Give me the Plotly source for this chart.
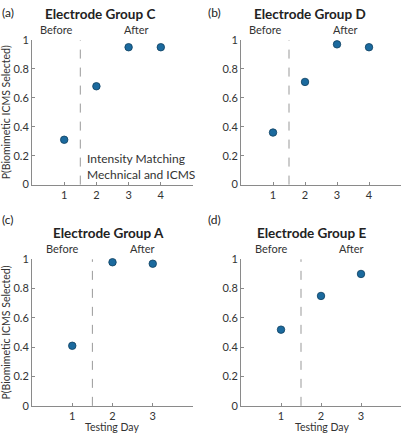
import plotly.graph_objects as go

W, H = 402, 440

# ---- data ----
groups = ["Electrode Group C", "Electrode Group D", "Electrode Group A", "Electrode Group E"]
panel_labels = ["(a)", "(b)", "(c)", "(d)"]
days_C = [1, 2, 3, 4]
vals_C = [0.31, 0.68, 0.95, 0.95]
days_D = [1, 2, 3, 4]
vals_D = [0.36, 0.71, 0.97, 0.95]
days_A = [1, 2, 3]
vals_A = [0.41, 0.98, 0.97]
days_E = [1, 2, 3]
vals_E = [0.52, 0.75, 0.90]
y_ticks = [0, 0.2, 0.4, 0.6, 0.8, 1]
y_tick_labels = ["0", "0.2", "0.4", "0.6", "0.8", "1"]
ylabel = "P(Biomimetic ICMS Selected)"
xlabel = "Testing Day"
note_text = "Intensity Matching<br>Mechnical and ICMS"

series = [(days_C, vals_C), (days_D, vals_D), (days_A, vals_A), (days_E, vals_E)]

# pixel layout of each panel: (left, right, top, bottom)
boxes = [(32, 193, 34, 183), (241, 401, 34, 183), (32, 193, 260, 411), (241, 401, 260, 411)]
xranges = [[0, 5], [0, 5], [0, 4], [0, 4]]

def px(x):
    return x / W

def py(y):
    return 1 - y / H

FONT = "Lato, 'Open Sans', sans-serif"
TXT = "#333333"
AX = "#8a8a8a"
MARK = "#1b6a9e"

fig = go.Figure()
annotations = []
shapes = []

for i, ((days, vals), (l, r, t, b), xr) in enumerate(zip(series, boxes, xranges)):
    n = "" if i == 0 else str(i + 1)
    xa = "xaxis" + n
    ya = "yaxis" + n
    fig.add_trace(go.Scatter(
        x=days, y=vals, mode="markers", xaxis="x" + n, yaxis="y" + n,
        marker=dict(size=7.5, color=MARK, line=dict(color="#0e3f60", width=0.8)),
        cliponaxis=False, showlegend=False, hoverinfo="x+y"))
    ndays = len(days)
    fig.update_layout(**{
        xa: dict(domain=[px(l), px(r)], range=xr, anchor="y" + n,
                 tickvals=list(range(1, ndays + 1)), ticktext=[str(d) for d in range(1, ndays + 1)],
                 showgrid=False, zeroline=False, showline=True, linecolor=AX, linewidth=1,
                 ticks="inside", ticklen=3, tickcolor=AX,
                 tickfont=dict(size=11, color=TXT, family=FONT)),
        ya: dict(domain=[py(b), py(t)], range=[0, 1], anchor="x" + n,
                 tickvals=y_ticks, ticktext=y_tick_labels,
                 showgrid=False, zeroline=False, showline=True, linecolor=AX, linewidth=1,
                 ticks="inside", ticklen=3, tickcolor=AX,
                 tickfont=dict(size=11, color=TXT, family=FONT)),
    })
    # dashed divider
    shapes.append(dict(type="line", xref="x" + n, yref="y" + n + " domain" if n else "y domain",
                       x0=1.5, x1=1.5, y0=0, y1=1,
                       line=dict(color="#999999", width=1, dash="dash")))
    # Before / After labels
    yba = t - 11
    annotations.append(dict(x=(0 + 1.5) / 2, xref="x" + n, y=py(yba), yref="paper",
                            text="Before", showarrow=False, xanchor="center", yanchor="middle",
                            font=dict(size=11, color=TXT, family=FONT)))
    annotations.append(dict(x=(1.5 + xr[1]) / 2, xref="x" + n, y=py(yba), yref="paper",
                            text="After", showarrow=False, xanchor="center", yanchor="middle",
                            font=dict(size=11, color=TXT, family=FONT)))

# titles
title_pos = [(100, 7), (310, 7), (108, 233), (311, 233)]
for g, (cx, cy) in zip(groups, title_pos):
    annotations.append(dict(x=px(cx), y=py(cy), xref="paper", yref="paper", text="<b>" + g + "</b>",
                            showarrow=False, xanchor="center", yanchor="middle",
                            font=dict(size=13.5, color="#222222", family=FONT)))
# panel labels
lab_pos = [(0, 6), (206, 6), (0, 219), (206, 219)]
for lab, (lx, ly) in zip(panel_labels, lab_pos):
    annotations.append(dict(x=px(lx), y=py(ly), xref="paper", yref="paper", text=lab,
                            showarrow=False, xanchor="left", yanchor="middle",
                            font=dict(size=12, color="#222222", family=FONT)))
# y labels
for cy in [108.5, 335.5]:
    annotations.append(dict(x=px(6), y=py(cy), xref="paper", yref="paper", text=ylabel,
                            textangle=-90, showarrow=False, xanchor="center", yanchor="middle",
                            font=dict(size=10.5, color=TXT, family=FONT)))
# x labels
for cx in [112.5, 321.5]:
    annotations.append(dict(x=px(cx), y=0, xref="paper", yref="paper", text=xlabel,
                            showarrow=False, xanchor="center", yanchor="bottom", borderpad=0,
                            font=dict(size=10.5, color=TXT, family=FONT)))
# note in panel a
annotations.append(dict(x=px(85), y=py(164.5), xref="paper", yref="paper", text=note_text,
                        showarrow=False, xanchor="left", yanchor="middle", align="left",
                        font=dict(size=12, color=TXT, family=FONT)))

fig.update_layout(width=W, height=H, margin=dict(l=0, r=0, t=0, b=0),
                  paper_bgcolor="white", plot_bgcolor="white",
                  annotations=annotations, shapes=shapes)

fig.write_html("out.html", config={"displayModeBar": False},
               post_script="document.body.style.margin='0';document.body.style.padding='0';")
